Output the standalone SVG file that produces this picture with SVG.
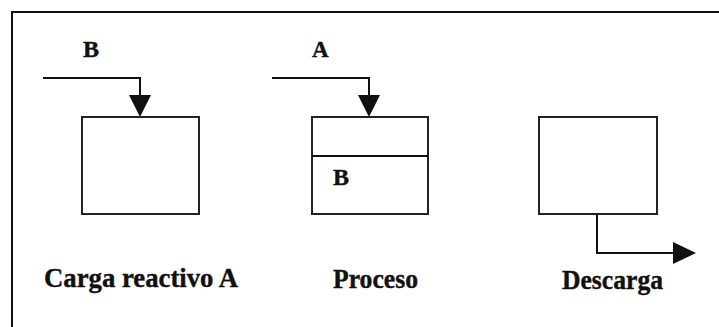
<svg xmlns="http://www.w3.org/2000/svg" width="719" height="327" viewBox="0 0 719 327">
<style>
.ln{fill:none;stroke:#111;stroke-width:2}
.bx{fill:#fff;stroke:#222;stroke-width:2}
.ah{fill:#111}
.t{font-family:"Liberation Serif","Times New Roman",serif;font-weight:bold;fill:#111;stroke:#111;stroke-width:0.4}
</style>
<rect width="719" height="327" fill="#fff"/>
<path class="ln" d="M12,327 V12 H719"/>
<g id="connectors">
<path class="ln" d="M43,78 H140 V100"/>
<polygon class="ah" points="129,95 151,95 140,117"/>
<path class="ln" d="M272,78 H369 V100"/>
<polygon class="ah" points="358,95 380,95 369,117"/>
<path class="ln" d="M597,214 V253 H676"/>
<polygon class="ah" points="673,242 696,253 673,264"/>
</g>
<g id="carga">
<rect class="bx" x="82" y="117" width="117" height="97"/>
<text class="t" x="83" y="57" font-size="24">B</text>
<text class="t" x="44" y="287" font-size="27" textLength="194" lengthAdjust="spacingAndGlyphs">Carga reactivo A</text>
</g>
<g id="proceso">
<rect class="bx" x="312" y="117" width="116" height="97"/>
<line class="ln" x1="312" y1="156" x2="428" y2="156"/>
<text class="t" x="312" y="57" font-size="23">A</text>
<text class="t" x="333" y="185" font-size="24">B</text>
<text class="t" x="333" y="288" font-size="27" textLength="85" lengthAdjust="spacingAndGlyphs">Proceso</text>
</g>
<g id="descarga">
<rect class="bx" x="539" y="117" width="118" height="97"/>
<text class="t" x="562" y="289" font-size="27" textLength="101" lengthAdjust="spacingAndGlyphs">Descarga</text>
</g>
</svg>
